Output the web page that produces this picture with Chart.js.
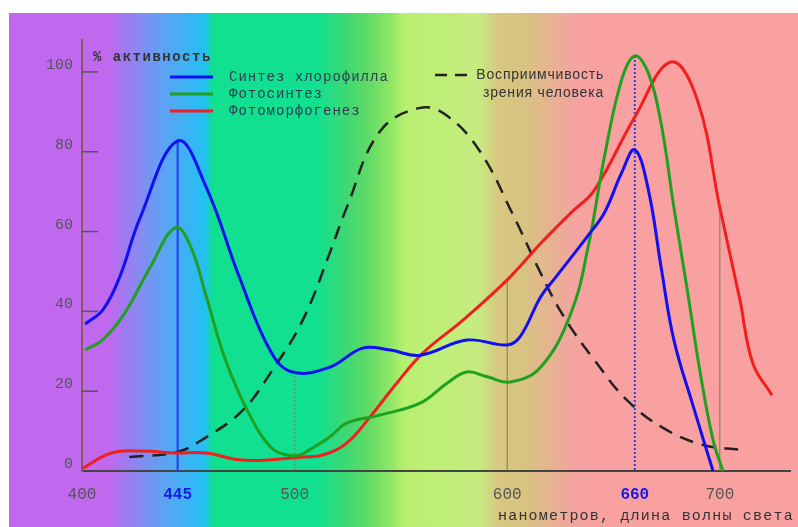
<!DOCTYPE html>
<html>
<head>
<meta charset="utf-8">
<script src="https://cdn.jsdelivr.net/npm/chart.js@4.4.0/dist/chart.umd.min.js"></script>
<style>
  html, body { margin: 0; padding: 0; background: #fff; }
  canvas { display: block; }
</style>
</head>
<body>
<canvas id="spectrum" width="798" height="527"></canvas>
<script>
// оси
const xTickValues = [400, 445, 500, 600, 660, 700];
const yTickValues = [0, 20, 40, 60, 80, 100];

// Синтез хлорофилла
const chlorNm  = [401.5, 410, 418, 427, 445, 458.5, 474, 488.7, 499, 516.5, 532, 545, 559, 581, 600, 606, 615.7, 622, 638, 645.7, 653.8, 660, 666.4, 672.4, 678.4, 687.6, 696.8];
const chlorVal = [36.8, 40.5, 49, 63, 82.7, 71, 48.6, 30, 24.8, 26, 30.8, 30.3, 29, 32.8, 31.6, 33.6, 43.6, 48, 59, 64.7, 74.7, 80.5, 70.4, 51, 32.8, 16, 0];

// Фотосинтез
const photoNm  = [401.5, 410, 420, 432, 444, 451.3, 458.5, 467.5, 478.4, 488.7, 496.4, 502.4, 507, 516.5, 524.5, 540, 559, 571.7, 581, 590.6, 601.4, 615.7, 630, 638, 645.7, 653.8, 660, 666.4, 672.4, 678.4, 684.8, 690.8, 696.8, 701.4];
const photoVal = [30.3, 33, 39.5, 51, 61, 56, 43.6, 27.8, 14.5, 6, 4, 4, 5.3, 8.5, 12, 14, 17, 22, 24.8, 23.6, 22.3, 26, 39.6, 56, 78.7, 98, 104, 99.7, 87, 66, 45, 24.5, 7.8, 0];

// Фотоморфогенез
const morphNm  = [400.5, 413.8, 428.7, 443.5, 458.5, 474, 488.7, 503.8, 513.2, 524.5, 535.4, 548, 560.4, 579.2, 600, 615.7, 630, 641, 660, 677, 689.4, 700, 709.4, 715.5, 724.5];
const morphVal = [0.7, 4.5, 5, 4.5, 4.5, 2.8, 2.8, 3.5, 4, 7, 13.5, 22, 29.6, 37.8, 47.9, 57, 64.7, 70.4, 88.7, 102.5, 93, 66, 43, 27, 19];

// Восприимчивость зрения человека
const eyeNm  = [422.3, 445, 458.5, 475.2, 488.7, 503.8, 516.5, 524.5, 540, 559, 571.7, 587.3, 602.9, 615.7, 626.7, 641, 656.2, 673.3, 692.2, 710.1];
const eyeVal = [3.5, 4.8, 8.5, 15, 24.6, 37.8, 54.6, 66, 85, 91, 89, 80, 64, 49.6, 38.6, 27.8, 17.8, 10.8, 6.5, 5.3];

// вертикальные линии: длина волны и верхний конец
const dropNm  = [445, 500, 600, 660, 700];
const dropTop = [82.7, 24.8, 47.9, 104, 66];

const legendLabels = ['Синтез хлорофилла', 'Фотосинтез', 'Фотоморфогенез'];
const eyeLabel = ['Восприимчивость', 'зрения человека'];

const pts = (xs, ys) => xs.map((x, i) => ({ x: x, y: ys[i] }));

// фон - спектр
const spectrumBg = {
    id: 'spectrumBg',
    beforeDraw(chart) {
        const c = chart.ctx;
        c.save();
        c.fillStyle = '#fff';
        c.fillRect(0, 0, chart.width, chart.height);
        const x0 = 9, x1 = 798, w = x1 - x0;
        const g = c.createLinearGradient(x0, 0, x1, 0);
        const stops = [
            [9, '#c068ee'], [109, '#c068ee'], [125, '#a07af0'], [160, '#62a0f2'],
            [205, '#22c0f2'], [212, '#12dc96'], [214, '#10e090'], [316, '#10e090'],
            [345, '#3cd874'], [368, '#60da66'], [392, '#92e866'], [405, '#b8f070'],
            [478, '#c6ec80'], [498, '#d8c880'], [525, '#d8c282'], [575, '#f4a4a0'],
            [600, '#f9a0a0'], [798, '#f9a0a0']
        ];
        stops.forEach(s => g.addColorStop((s[0] - x0) / w, s[1]));
        c.fillStyle = g;
        c.fillRect(x0, 13, w, chart.height - 13);
        c.restore();
    }
};

// вертикали и засечки оси Y
const guides = {
    id: 'guides',
    beforeDatasetsDraw(chart) {
        const c = chart.ctx, xs = chart.scales.x, ys = chart.scales.y;
        c.save();
        dropNm.forEach((nm, i) => {
            const px = xs.getPixelForValue(nm);
            const blue = nm === 445 || nm === 660;
            c.strokeStyle = blue ? '#2a3cf0' : '#7a7a60';
            c.lineWidth = blue ? 2 : 1;
            c.setLineDash(nm === 660 || nm === 500 ? [2, 2] : []);
            c.beginPath();
            c.moveTo(px, ys.getPixelForValue(dropTop[i]));
            c.lineTo(px, ys.getPixelForValue(0));
            c.stroke();
        });
        c.setLineDash([]);
        c.strokeStyle = '#555';
        c.lineWidth = 1.5;
        yTickValues.slice(1).forEach(v => {
            const py = ys.getPixelForValue(v);
            c.beginPath();
            c.moveTo(chart.chartArea.left, py);
            c.lineTo(chart.chartArea.left + 16, py);
            c.stroke();
        });
        c.restore();
    },
    afterDraw(chart) {
        const c = chart.ctx;
        c.save();
        c.textBaseline = 'middle';
        // подпись оси Y
        c.fillStyle = '#333';
        c.font = 'bold 14px "Liberation Mono"';
        c.letterSpacing = '1.5px';
        c.fillText('% активность', 93, 57);
        // легенда
        const colors = ['#1010f0', '#20a020', '#f02020'];
        const rowsY = [77, 94, 111];
        c.font = '14px "Liberation Mono"';
        c.letterSpacing = '1px';
        legendLabels.forEach((t, i) => {
            c.strokeStyle = colors[i];
            c.lineWidth = 3;
            c.beginPath();
            c.moveTo(170, rowsY[i]);
            c.lineTo(213, rowsY[i]);
            c.stroke();
            c.fillStyle = '#2d4050';
            c.fillText(t, 229, rowsY[i]);
        });
        c.strokeStyle = '#222';
        c.lineWidth = 2.5;
        c.setLineDash([12, 8]);
        c.beginPath();
        c.moveTo(435, 75);
        c.lineTo(467, 75);
        c.stroke();
        c.setLineDash([]);
        c.font = '14px "Liberation Sans"';
        c.letterSpacing = '0.8px';
        c.fillStyle = '#333';
        c.textAlign = 'right';
        c.fillText(eyeLabel[0], 604, 75);
        c.fillText(eyeLabel[1], 604, 93);
        // подпись оси X
        c.textAlign = 'left';
        c.font = '15px "Liberation Mono"';
        c.letterSpacing = '1.2px';
        c.fillText('нанометров, длина волны света', 498, 516);
        c.restore();
    }
};

const ctx = document.getElementById('spectrum');
const spectrumChart = new Chart(ctx, {
    type: 'line',
    data: {
        datasets: [
            {
                label: legendLabels[0],
                data: pts(chlorNm, chlorVal),
                borderColor: '#1010f0',
                borderWidth: 3
            },
            {
                label: legendLabels[1],
                data: pts(photoNm, photoVal),
                borderColor: '#20a020',
                borderWidth: 3
            },
            {
                label: legendLabels[2],
                data: pts(morphNm, morphVal),
                borderColor: '#f02020',
                borderWidth: 3
            },
            {
                label: eyeLabel.join(' '),
                data: pts(eyeNm, eyeVal),
                borderColor: '#222',
                borderWidth: 2.5,
                borderDash: [14, 9]
            }
        ]
    },
    options: {
        responsive: false,
        animation: false,
        elements: {
            point: { radius: 0 },
            line: { tension: 0.4, fill: false }
        },
        layout: { padding: { top: 40, right: 8, bottom: 0, left: 0 } },
        plugins: {
            legend: { display: false },
            tooltip: { enabled: false }
        },
        scales: {
            x: {
                type: 'linear',
                min: 400,
                max: 733,
                grid: { display: false, drawTicks: false },
                border: { color: '#444', width: 2 },
                afterBuildTicks: s => { s.ticks = xTickValues.map(v => ({ value: v })); },
                afterFit: s => { s.height = 56; },
                ticks: {
                    padding: 14,
                    autoSkip: false,
                    maxRotation: 0,
                    callback: v => String(v),
                    color: c => (c.tick && (c.tick.value === 445 || c.tick.value === 660)) ? '#1a1ae8' : '#555',
                    font: c => ({
                        family: '"Liberation Mono"',
                        size: 16,
                        weight: (c.tick && (c.tick.value === 445 || c.tick.value === 660)) ? 'bold' : 'normal'
                    })
                }
            },
            y: {
                min: 0,
                max: 108,
                grid: { display: false, drawTicks: false },
                border: { color: '#8a5a5a', width: 2 },
                afterBuildTicks: s => { s.ticks = yTickValues.map(v => ({ value: v })); },
                afterFit: s => { s.width = 82; },
                ticks: {
                    padding: 9,
                    labelOffset: -7,
                    color: '#555',
                    callback: v => String(v),
                    font: { family: '"Liberation Mono"', size: 15 }
                }
            }
        }
    },
    plugins: [spectrumBg, guides]
});
</script>
</body>
</html>
